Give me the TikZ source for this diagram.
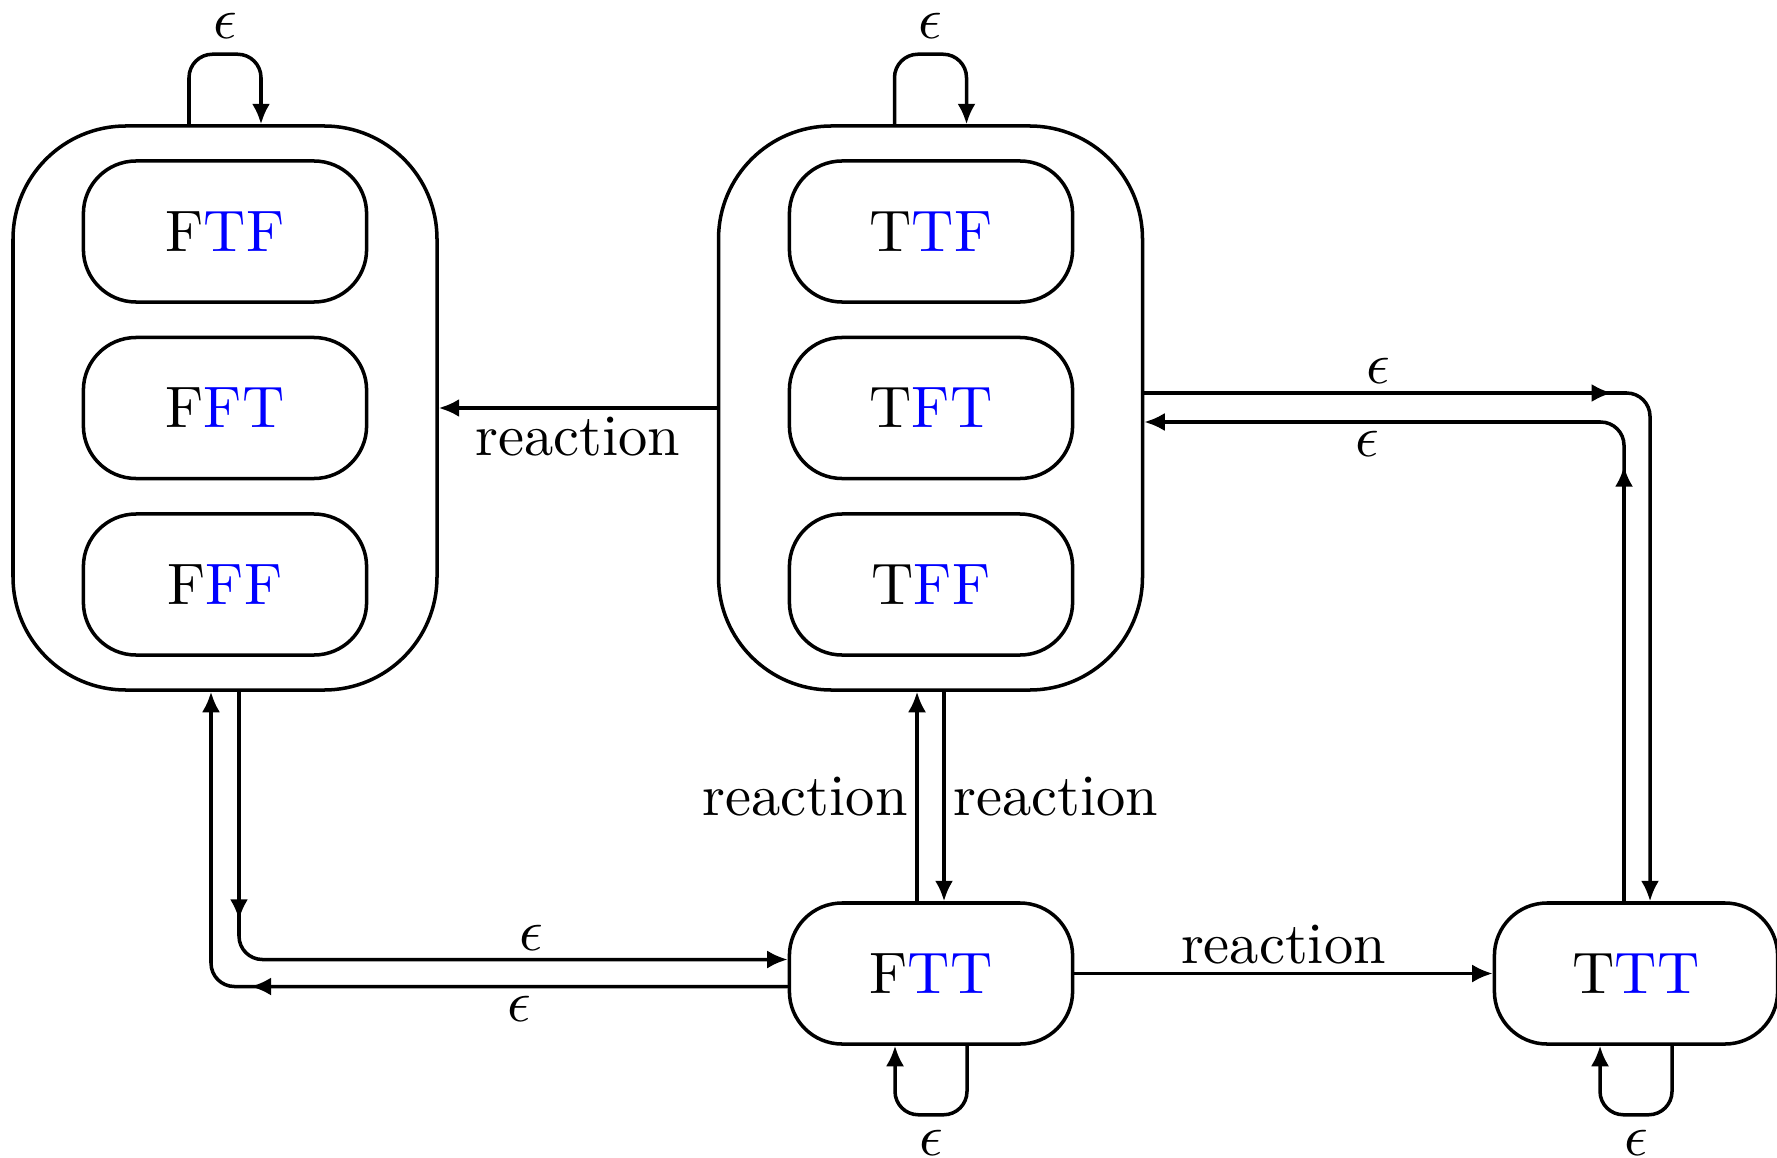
\documentclass[tikz,border=0pt]{standalone}
\usetikzlibrary{arrows.meta,calc}
\newcommand{\blu}[1]{\textcolor{blue}{#1}}
\begin{document}
\begin{tikzpicture}[x=0.1709pt, y=-0.1709pt, line width=0.6pt,
  >={Latex[length=3.5pt,width=3.1pt]},
  group/.style={draw, rounded corners=19.3pt, minimum width=72.46pt, minimum height=96.39pt, inner sep=0pt},
  state/.style={draw, rounded corners=9pt, minimum width=48.4pt, minimum height=24.1pt, inner sep=0pt},
  elabel/.style={inner sep=1.3pt},
  looplabel/.style={inner sep=0.4pt},
  bent/.style={->, rounded corners=4pt}]

\useasboundingbox (0,0) rectangle (1777,1157);

% grouped states
\node[group] (L) at (225,408) {};
\node[state] (FTF) at (225,231.5) {F\blu{TF}};
\node[state] (FFT) at (225,408)   {F\blu{FT}};
\node[state] (FFF) at (225,584.5) {F\blu{FF}};

\node[group] (M) at (930.5,408) {};
\node[state] (TTF) at (931,231.5) {T\blu{TF}};
\node[state] (TFT) at (931,408)   {T\blu{FT}};
\node[state] (TFF) at (931,584.5) {T\blu{FF}};

% single states
\node[state] (FTT) at (931,973.5)  {F\blu{TT}};
\node[state] (TTT) at (1636,973.5) {T\blu{TT}};

% reaction transitions
\draw[->] (M.west) -- node[elabel,below] {reaction} (L.east);
\coordinate (upA) at ($(FTT.north)+(-14,0)$);
\coordinate (dnA) at ($(FTT.north)+(13,0)$);
\draw[->] (upA) -- node[elabel,left] {reaction} (upA |- M.south);
\draw[->] (dnA |- M.south) -- node[elabel,right] {reaction} (dnA);
\draw[->] (FTT.east) -- node[elabel,above] {reaction} (TTT.west);

% epsilon transitions between M and TTT (bent, with a tip on each leg)
\coordinate (r1s) at ($(M.east)+(0,-15)$);
\coordinate (r1k) at (1612,393);
\coordinate (r1e) at ($(TTT.north)+(14,0)$);
\draw[bent] (r1s) -| (r1e);
\draw[->] (r1s) -- node[elabel,above] {$\epsilon$} (r1k);

\coordinate (r2s) at ($(TTT.north)+(-12,0)$);
\coordinate (r2k) at ($(TTT.north)+(-12,-435)$);
\coordinate (r2e) at ($(M.east)+(0,14)$);
\draw[bent] (r2s) |- (r2e);
\draw[->] (r2s) -- (r2k);
\path (r2k) |- node[elabel,below,pos=0.768] {$\epsilon$} (r2e);

% epsilon transitions between L and FTT
\coordinate (b1s) at ($(L.south)+(14,0)$);
\coordinate (b1k) at ($(L.south)+(14,228)$);
\coordinate (b1e) at ($(FTT.west)+(0,-14)$);
\draw[bent] (b1s) |- (b1e);
\draw[->] (b1s) -- (b1k);
\path (b1k) |- node[elabel,above,pos=0.766] {$\epsilon$} (b1e);

\coordinate (b2s) at ($(FTT.west)+(0,13)$);
\coordinate (b2k) at ($(FTT.west)+(-537,13)$);
\coordinate (b2e) at ($(L.south)+(-14,0)$);
\draw[bent] (b2s) -| (b2e);
\draw[->] (b2s) -- node[elabel,below] {$\epsilon$} (b2k);

% self loops
\draw[bent] ($(L.north)+(-36,0)$) -- ++(0,-70) -- node[looplabel,above=2pt] {$\epsilon$} ++(72,0) -- ($(L.north)+(36,0)$);
\draw[bent] ($(M.north)+(-36,0)$) -- ++(0,-70) -- node[looplabel,above=2pt] {$\epsilon$} ++(72,0) -- ($(M.north)+(36,0)$);
\draw[bent] ($(FTT.south)+(36,0)$) -- ++(0,69) -- node[looplabel,below=2pt] {$\epsilon$} ++(-72,0) -- ($(FTT.south)+(-36,0)$);
\draw[bent] ($(TTT.south)+(36,0)$) -- ++(0,69) -- node[looplabel,below=2pt] {$\epsilon$} ++(-72,0) -- ($(TTT.south)+(-36,0)$);
\end{tikzpicture}
\end{document}
